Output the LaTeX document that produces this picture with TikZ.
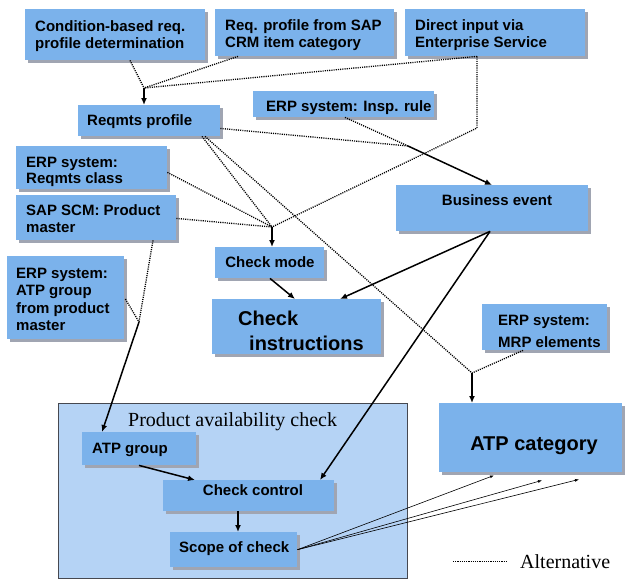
\documentclass[tikz,border=0pt]{standalone}
\usepackage{fontspec}
\setmainfont{Liberation Serif}
\newfontfamily\sansfont{Liberation Sans}
\usetikzlibrary{calc,shadows,arrows.meta}
\definecolor{boxblue}{RGB}{123,178,235}
\definecolor{bigblue}{RGB}{181,211,245}
\definecolor{bordergray}{RGB}{70,72,80}
\definecolor{shadowgray}{RGB}{160,165,178}
\newcommand{\mylines}[1]{\begin{tabular}[t]{@{}l@{}}#1\end{tabular}}
\tikzset{
  boxnode/.style={fill=boxblue, inner sep=0pt, anchor=north west,
    drop shadow={shadow xshift=3pt, shadow yshift=-3pt, fill=shadowgray, opacity=1}},
  bigbox/.style={fill=bigblue, draw=bordergray, line width=0.8pt, inner sep=0pt, anchor=north west},
  txt/.style={inner sep=0pt, anchor=base west, font=\sansfont\bfseries\fontsize{15}{17.5}\selectfont},
  bigtxt/.style={inner sep=0pt, anchor=base west, font=\sansfont\bfseries\fontsize{20}{25}\selectfont},
  serif/.style={inner sep=0pt, anchor=base west, font=\fontsize{20}{24}\selectfont},
  altline/.style={line width=1.3pt, dash pattern=on 1.1pt off 1.1pt, black},
  flow/.style={line width=1.5pt, black, -{Latex[length=7pt,width=6pt]}},
  thinflow/.style={line width=0.6pt, black, -{Latex[length=4pt,width=3pt]}}
}
\begin{document}
\begin{tikzpicture}[x=1pt,y=-1pt]
\useasboundingbox (0,0) rectangle (629,581);
% big container
\node[bigbox, minimum width=349pt, minimum height=175pt] (pac) at (58,403) {};
\node[serif] (pactitle) at (128,426) {Product availability check};
% boxes
\node[boxnode, minimum width=180pt, minimum height=51pt] (cond) at (25,9) {};
\node[boxnode, minimum width=179pt, minimum height=47pt] (crm) at (215,9) {};
\node[boxnode, minimum width=180pt, minimum height=47pt] (direct) at (405,9) {};
\node[boxnode, minimum width=142pt, minimum height=31pt] (reqp) at (78,105) {};
\node[boxnode, minimum width=181pt, minimum height=26pt] (insp) at (253,91) {};
\node[boxnode, minimum width=151pt, minimum height=43pt] (rclass) at (16,146) {};
\node[boxnode, minimum width=160pt, minimum height=45pt] (scm) at (16,195) {};
\node[boxnode, minimum width=192pt, minimum height=46pt] (bevent) at (396,185) {};
\node[boxnode, minimum width=109pt, minimum height=31pt] (cmode) at (215,247) {};
\node[boxnode, minimum width=169pt, minimum height=55pt] (cinstr) at (212,299) {};
\node[boxnode, minimum width=117pt, minimum height=83pt] (atppm) at (7,256) {};
\node[boxnode, minimum width=125pt, minimum height=46pt] (mrp) at (482,304) {};
\node[boxnode, minimum width=114pt, minimum height=33pt] (atpg) at (82,432) {};
\node[boxnode, minimum width=171pt, minimum height=31pt] (cctrl) at (163,480) {};
\node[boxnode, minimum width=127pt, minimum height=35pt] (scope) at (170,532) {};
\node[boxnode, minimum width=183pt, minimum height=69pt] (atpcat) at (439,403) {};
% texts
\node[txt] (tcond) at (35,31) {\mylines{Condition-based req.\\profile determination}};
\node[txt] (tcrm) at (225,30) {\mylines{Req. profile from SAP\\CRM item category}};
\node[txt] (tdirect) at (415,30) {\mylines{Direct input via\\Enterprise Service}};
\node[txt] (treqp) at (87,125) {Reqmts profile};
\node[txt] (tinsp) at (266,111) {ERP system: Insp. rule};
\node[txt, font=\sansfont\bfseries\fontsize{15}{16.5}\selectfont] (trclass) at (26,167) {\mylines{ERP system:\\Reqmts class}};
\node[txt] (tscm) at (26,215) {\mylines{SAP SCM: Product\\master}};
\node[txt, anchor=base] (tbevent) at (497,205) {Business event};
\node[txt, anchor=base] (tcmode) at (270,267) {Check mode};
\node[bigtxt] (tcinstr) at (238,325) {\mylines{Check\\\hspace*{11pt}instructions}};
\node[txt, font=\sansfont\bfseries\fontsize{15}{17.6}\selectfont] (tatppm) at (16,278) {\mylines{ERP system:\\ATP group\\from product\\master}};
\node[txt, font=\sansfont\bfseries\fontsize{15}{22}\selectfont] (tmrp) at (498,325) {\mylines{ERP system:\\MRP elements}};
\node[bigtxt, anchor=base] (tatpcat) at (534,450) {ATP category};
\node[txt] (tatpg) at (92,453) {ATP group};
\node[txt, anchor=base] (tcctrl) at (253,495) {Check control};
\node[txt] (tscope) at (179,552) {Scope of check};
% junctions
\coordinate (J1) at (144,88);
\coordinate (J2) at (408,146);
\coordinate (J3) at (272,227);
\coordinate (J4) at (472,373);
\coordinate (J5) at (139,322);
\coordinate (K1) at (477,128);
% alternative (dotted) connectors
\draw[altline] ($(cond.south west)+(105,0)$) -- (J1);
\draw[altline] ($(crm.south west)+(23,0)$) -- (J1);
\draw[altline] ($(direct.south west)+(72,0)$) -- (J1);
\draw[altline] ($(direct.south west)+(72,0)$) -- (K1) -- (J3);
\draw[altline] ($(reqp.south east)+(0,-8)$) -- (J2);
\draw[altline] ($(insp.south west)+(92,0)$) -- (J2);
\draw[altline] ($(reqp.south west)+(124,0)$) -- (J3);
\draw[altline] ($(reqp.south west)+(127,0)$) -- (J4);
\draw[altline] ($(rclass.south east)+(0,-17)$) -- (J3);
\draw[altline] ($(scm.south east)+(0,-22)$) -- (J3);
\draw[altline] ($(mrp.south west)+(41,0)$) -- (J4);
\draw[altline] ($(atppm.north east)+(1,43)$) -- (J5);
\draw[altline] ($(scm.south west)+(137,0)$) -- (J5);
% solid connectors
\draw[flow] (J1) -- (J1 |- reqp.north);
\draw[flow] (J2) -- ($(bevent.north west)+(96,0)$);
\draw[flow] (J3) -- (J3 |- cmode.north);
\draw[flow] (J4) -- (J4 |- atpcat.north);
\draw[flow] (J5) -- ($(atpg.north west)+(20,0)$);
\draw[flow] ($(cmode.south west)+(55,0)$) -- ($(cinstr.north west)+(83,0)$);
\draw[flow] ($(bevent.south west)+(94,0)$) -- ($(cinstr.north west)+(128,0)$);
\draw[flow] ($(bevent.south west)+(94,0)$) -- ($(cctrl.north west)+(157,0)$);
\draw[flow] ($(atpg.south west)+(57,0)$) -- ($(cctrl.north west)+(32,0)$);
\draw[flow] ($(cctrl.south west)+(75,0)$) -- ($(scope.north west)+(68,0)$);
\draw[thinflow] (scope.east) -- ($(atpcat.south west)+(55,3)$);
\draw[thinflow] (scope.east) -- ($(atpcat.south west)+(103,8)$);
\draw[thinflow] (scope.east) -- ($(atpcat.south west)+(140,7)$);
% legend
\coordinate (L1) at (453,561);
\coordinate (L2) at (507,561);
\draw[altline, line width=0.8pt] (L1) -- (L2);
\node[serif] (talt) at (520,568) {Alternative};
\end{tikzpicture}
\end{document}
